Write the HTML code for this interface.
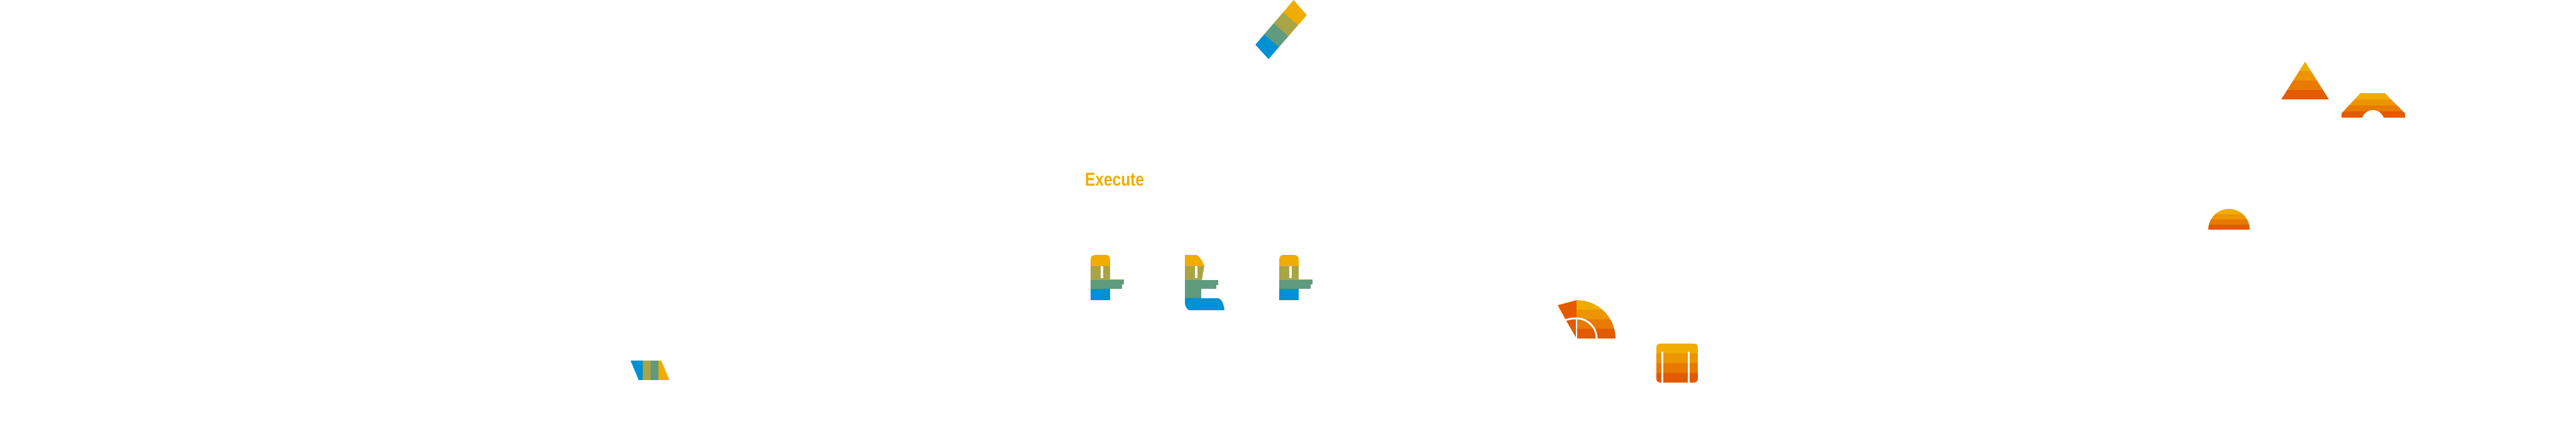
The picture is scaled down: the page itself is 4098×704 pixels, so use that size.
<!DOCTYPE html>
<html><head><meta charset="utf-8"><style>
html,body{margin:0;padding:0;background:#fff;width:4098px;height:704px;overflow:hidden}
svg{display:block}
</style></head><body>
<svg width="4098" height="704" viewBox="0 0 4098 704" xmlns="http://www.w3.org/2000/svg">
<defs>
<linearGradient id="ic" x1="0" y1="405" x2="0" y2="477" gradientUnits="userSpaceOnUse">
<stop offset="0" stop-color="#f0ac00"/><stop offset=".25" stop-color="#f0ac00"/>
<stop offset=".25" stop-color="#a9a446"/><stop offset=".555" stop-color="#a9a446"/>
<stop offset=".555" stop-color="#5f9b7d"/><stop offset=".75" stop-color="#5f9b7d"/>
<stop offset=".75" stop-color="#0090d4"/><stop offset="1" stop-color="#0090d4"/>
</linearGradient>
<linearGradient id="ic2" x1="0" y1="405" x2="0" y2="493" gradientUnits="userSpaceOnUse">
<stop offset="0" stop-color="#f0ac00"/><stop offset=".205" stop-color="#f0ac00"/>
<stop offset=".205" stop-color="#a9a446"/><stop offset=".455" stop-color="#a9a446"/>
<stop offset=".455" stop-color="#5f9b7d"/><stop offset=".78" stop-color="#5f9b7d"/>
<stop offset=".78" stop-color="#0090d4"/><stop offset="1" stop-color="#0090d4"/>
</linearGradient>
<linearGradient id="diag" x1="2068" y1="12" x2="2007" y2="82" gradientUnits="userSpaceOnUse">
<stop offset="0" stop-color="#f0ac00"/><stop offset=".25" stop-color="#f0ac00"/>
<stop offset=".25" stop-color="#a9a446"/><stop offset=".5" stop-color="#a9a446"/>
<stop offset=".5" stop-color="#5f9b7d"/><stop offset=".75" stop-color="#5f9b7d"/>
<stop offset=".75" stop-color="#0090d4"/><stop offset="1" stop-color="#0090d4"/>
</linearGradient>
<linearGradient id="par" x1="1010" y1="0" x2="1060" y2="0" gradientUnits="userSpaceOnUse">
<stop offset="0" stop-color="#0090d4"/><stop offset=".25" stop-color="#0090d4"/>
<stop offset=".25" stop-color="#a9a446"/><stop offset=".5" stop-color="#a9a446"/>
<stop offset=".5" stop-color="#5f9b7d"/><stop offset=".75" stop-color="#5f9b7d"/>
<stop offset=".75" stop-color="#f0ac00"/><stop offset="1" stop-color="#f0ac00"/>
</linearGradient>
<linearGradient id="or" x1="0" y1="0" x2="0" y2="1">
<stop offset="0" stop-color="#f0ac00"/><stop offset=".25" stop-color="#f0ac00"/>
<stop offset=".25" stop-color="#ec9500"/><stop offset=".5" stop-color="#ec9500"/>
<stop offset=".5" stop-color="#e87a00"/><stop offset=".75" stop-color="#e87a00"/>
<stop offset=".75" stop-color="#e35a00"/><stop offset="1" stop-color="#e35a00"/>
</linearGradient>
</defs>

<polygon points="2058,0 2079,24 2018,94 1997,71" fill="url(#diag)"/>

<polygon points="1003,573 1052,573 1065,604 1016,604" fill="url(#par)"/>

<text x="1726" y="295" font-family="Liberation Sans, sans-serif" font-size="30" font-weight="bold" fill="#f0ac00" textLength="94" lengthAdjust="spacingAndGlyphs">Execute</text>

<path d="M1735,477 V413 Q1735,405 1743,405 H1758 Q1766,405 1766,413 V444 H1788 V452 L1785,452 V459 H1766 V477 Z M1751,423 V442 H1755 V423 Z" fill="url(#ic)" fill-rule="evenodd"/>
<path d="M1885,405 H1903 Q1910,408 1916,422 L1912,445 H1938 V453 L1935,453 V459 H1911 V474 H1938 Q1946,476 1948,493 H1892 Q1885,490 1885,480 Z M1901,423 V442 H1905 V423 Z" fill="url(#ic2)" fill-rule="evenodd"/>
<path d="M2035,477 V413 Q2035,405 2043,405 H2058 Q2066,405 2066,413 V444 H2088 V452 L2085,452 V459 H2066 V477 Z M2051,423 V442 H2055 V423 Z" fill="url(#ic)" fill-rule="evenodd"/>

<g>
<path d="M2508,538 V477 A61,61 0 0 1 2570,538 Z" fill="url(#or)"/>
<path d="M2508,477 L2478,485 L2494,514 L2508,538 Z" fill="#e35a00"/>
<path d="M2540,538 A32,32 0 0 0 2508,506" fill="none" stroke="#fff" stroke-width="3"/>
<path d="M2508,506 Q2494,506 2485,511" fill="none" stroke="#fff" stroke-width="3"/>
<line x1="2508" y1="505" x2="2508" y2="538" stroke="#fff" stroke-width="2"/>
</g>

<rect x="2635" y="546" width="66" height="62" rx="6" fill="url(#or)"/>
<rect x="2643" y="559" width="3" height="49" fill="#fff"/>
<rect x="2685" y="559" width="3" height="49" fill="#fff"/>

<polygon points="3667,98 3705,158 3629,158" fill="url(#or)"/>
<path d="M3755,148 H3794 L3826,180 V187 H3792 A18,18 0 0 0 3758,187 H3725 V180 Z" fill="url(#or)"/>
<path d="M3513,365 A33,33 0 0 1 3579,365 Z" fill="url(#or)"/>
</svg>
</body></html>
